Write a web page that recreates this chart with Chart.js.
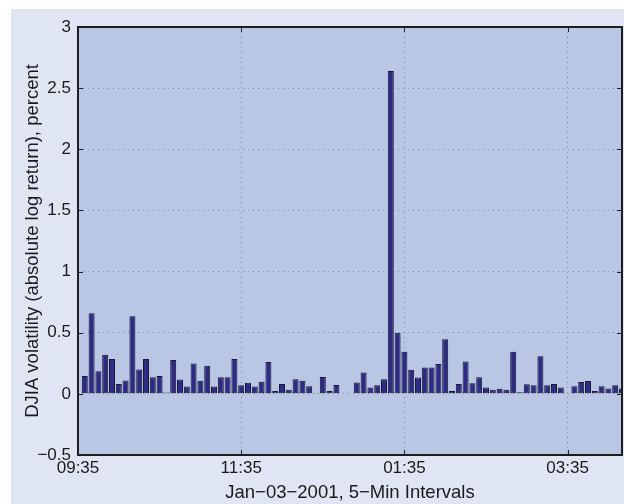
<!DOCTYPE html>
<html>
<head>
<meta charset="utf-8">
<title>DJIA volatility</title>
<script src="https://cdn.jsdelivr.net/npm/chart.js@4.4.1/dist/chart.umd.min.js"></script>
<style>
  html, body { margin: 0; padding: 0; background: #fff; }
  #wrap { width: 624px; height: 504px; }
</style>
</head>
<body>
<div id="wrap"><canvas id="volChart" width="624" height="504"></canvas></div>
<script>
// interval number since 09:35 (one step = 5 minutes)
const intervals = [
  1, 2, 3, 4, 5, 6, 7, 8, 9, 10, 11, 12, 13, 14, 15, 16, 17, 18, 19, 20,
  21, 22, 23, 24, 25, 26, 27, 28, 29, 30, 31, 32, 33, 34, 35, 36, 37, 38, 39, 40,
  41, 42, 43, 44, 45, 46, 47, 48, 49, 50, 51, 52, 53, 54, 55, 56, 57, 58, 59, 60,
  61, 62, 63, 64, 65, 66, 67, 68, 69, 70, 71, 72, 73, 74, 75, 76, 77, 78, 79, 80
];

// absolute log return, percent
const volatility = [
  0.147, 0.66, 0.185, 0.32, 0.285, 0.08, 0.11, 0.634, 0.20, 0.285,
  0.136, 0.147, 0.012, 0.276, 0.118, 0.06, 0.248, 0.108, 0.23, 0.06,
  0.136, 0.136, 0.286, 0.07, 0.09, 0.06, 0.10, 0.26, 0.023, 0.08,
  0.034, 0.12, 0.108, 0.062, 0.008, 0.137, 0.023, 0.072, 0.005, 0.005,
  0.092, 0.174, 0.053, 0.07, 0.12, 2.64, 0.50, 0.344, 0.198, 0.133,
  0.216, 0.216, 0.245, 0.447, 0.023, 0.08, 0.264, 0.087, 0.135, 0.052,
  0.034, 0.042, 0.034, 0.345, 0.014, 0.079, 0.071, 0.307, 0.071, 0.08,
  0.052, 0.005, 0.062, 0.097, 0.106, 0.024, 0.062, 0.043, 0.071, 0.043
];

// x tick positions and their clock labels
const tickPositions = [0, 24, 48, 72];
const tickLabels = ["09:35", "11:35", "01:35", "03:35"];

const FONT = "'Liberation Sans', Arial, Helvetica, sans-serif";
const MINUS = "\u2212";

// figure + axes backgrounds
const backgroundPlugin = {
  id: "backgrounds",
  beforeDraw(chart) {
    const c = chart.ctx;
    const area = chart.chartArea;
    c.save();
    c.fillStyle = "#ffffff";
    c.fillRect(0, 0, chart.width, chart.height);
    c.fillStyle = "#dfe5f2";
    c.fillRect(11, 9, chart.width - 11, chart.height - 9);
    c.fillStyle = "#b9c7e4";
    c.fillRect(area.left, area.top, area.right - area.left, area.bottom - area.top);
    c.restore();
  }
};

// box round the axes with inward tick marks on all four sides
// (filled rects so the lines sit on whole pixels)
function drawAxesBox(chart) {
  const c = chart.ctx;
  const a = chart.chartArea;
  const xs = chart.scales.x;
  const ys = chart.scales.y;
  const len = 6;
  const w = 2;
  const left = Math.round(a.left) - 1;
  const right = Math.round(a.right) - 1;
  const top = Math.round(a.top) - 1;
  const bottom = Math.round(a.bottom) - 1;
  c.save();
  c.fillStyle = "#1e1e1e";
  ys.ticks.forEach(t => {
    const y = Math.round(ys.getPixelForValue(t.value));
    c.fillRect(left, y, len, 1);
    c.fillRect(right - len + w, y, len, 1);
  });
  xs.ticks.forEach(t => {
    const x = Math.round(xs.getPixelForValue(t.value));
    c.fillRect(x, bottom - len + w, 1, len);
    c.fillRect(x, top, 1, len);
  });
  c.fillRect(left, top, right - left + w, w);
  c.fillRect(left, bottom, right - left + w, w);
  c.fillRect(left, top, w, bottom - top + w);
  c.fillRect(right, top, w, bottom - top + w);
  c.restore();
}

const boxPlugin = {
  id: "axesBox",
  afterDraw(chart) {
    drawAxesBox(chart);
  }
};

const volCtx = document.getElementById("volChart").getContext("2d");
new Chart(volCtx, {
  type: "bar",
  data: {
    datasets: [{
      data: intervals.map((x, i) => ({ x: x, y: volatility[i] })),
      backgroundColor: "#2e2b84",
      borderColor: "#191834",
      borderWidth: 1,
      borderSkipped: false,
      barPercentage: 0.88,
      categoryPercentage: 1.0
    }]
  },
  options: {
    responsive: false,
    animation: false,
    events: [],
    layout: { padding: { left: 0, top: 27, right: 2, bottom: 0 } },
    plugins: {
      legend: { display: false },
      tooltip: { enabled: false }
    },
    scales: {
      x: {
        type: "linear",
        min: 0,
        max: 80,
        offset: false,
        afterBuildTicks: scale => {
          scale.ticks = tickPositions.map(v => ({ value: v }));
        },
        afterFit: scale => { scale.height = 49; },
        grid: { offset: false, drawTicks: false, color: "#7c88a8", lineWidth: 1 },
        border: { display: false, dash: [1, 4] },
        ticks: {
          autoSkip: false,
          maxRotation: 0,
          padding: 3,
          color: "#1a1a1a",
          font: { family: FONT, size: 17 },
          callback: value => tickLabels[tickPositions.indexOf(value)]
        },
        title: {
          display: true,
          text: "Jan" + MINUS + "03" + MINUS + "2001, 5" + MINUS + "Min Intervals",
          color: "#1a1a1a",
          font: { family: FONT, size: 18.5 },
          padding: { top: 0, bottom: 0 }
        }
      },
      y: {
        min: -0.5,
        max: 3,
        afterFit: scale => { scale.width = 78; },
        grid: { drawTicks: false, color: "#7c88a8", lineWidth: 1 },
        border: { display: false, dash: [1, 4] },
        ticks: {
          stepSize: 0.5,
          padding: 7,
          color: "#1a1a1a",
          font: { family: FONT, size: 17 },
          callback: v => (v < 0 ? MINUS + Math.abs(v) : String(v))
        },
        title: {
          display: true,
          text: "DJIA volatility (absolute log return), percent",
          color: "#1a1a1a",
          font: { family: FONT, size: 18.5 },
          padding: { top: 22, bottom: 0 }
        }
      }
    }
  },
  plugins: [backgroundPlugin, boxPlugin]
});
</script>
</body>
</html>
